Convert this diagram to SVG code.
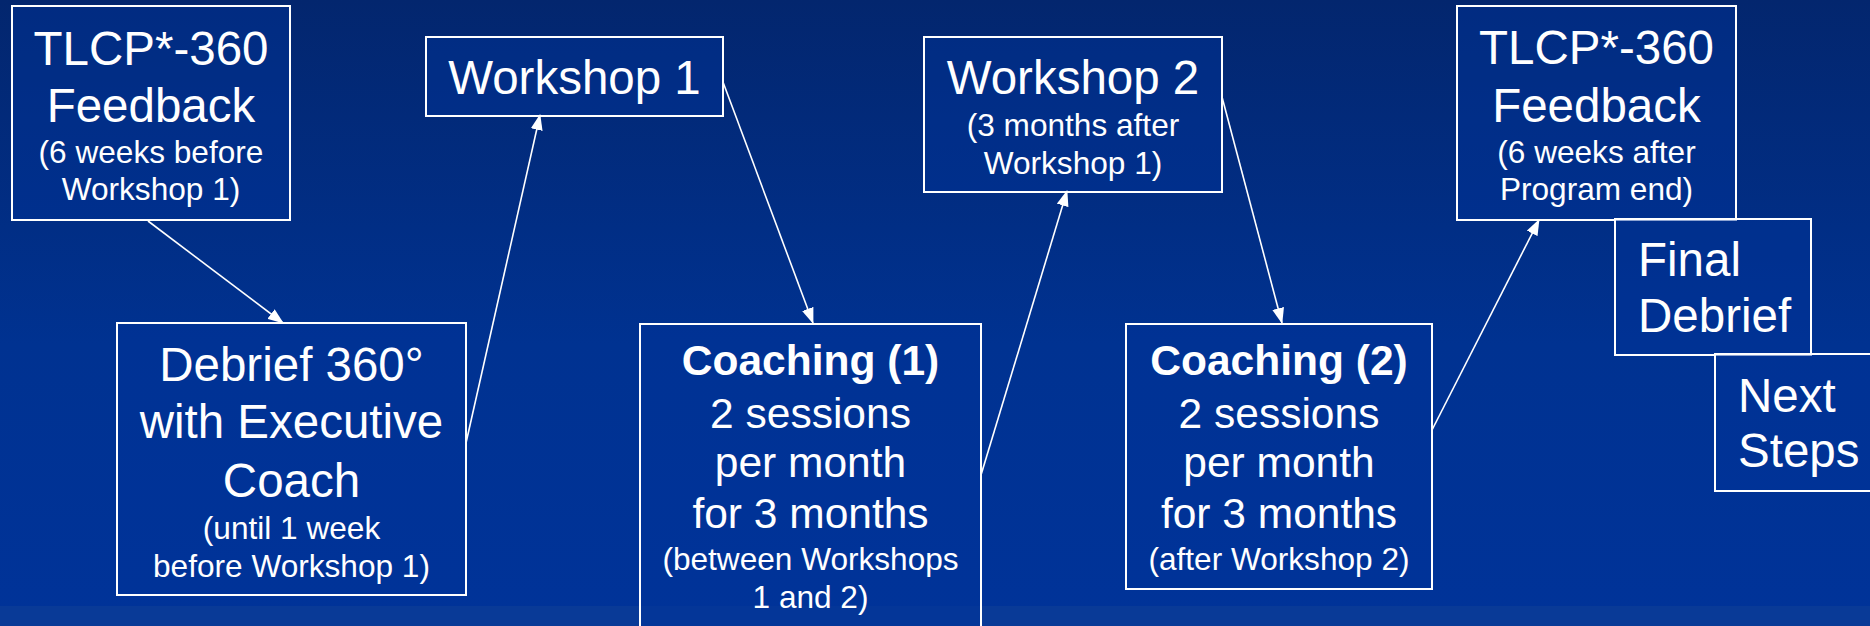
<svg xmlns="http://www.w3.org/2000/svg" width="1870" height="626" viewBox="0 0 1870 626">
<defs>
<linearGradient id="bg" x1="0" y1="0" x2="0" y2="1">
<stop offset="0" stop-color="#03266e"/>
<stop offset="0.55" stop-color="#003291"/>
<stop offset="1" stop-color="#003399"/>
</linearGradient>
<marker id="ah" viewBox="0 0 16 12" refX="15" refY="6" markerWidth="16" markerHeight="12" markerUnits="userSpaceOnUse" orient="auto">
<path d="M0,0 L16,6 L0,12 Z" fill="#ffffff"/>
</marker>
<style>
.box{fill:#003399;fill-opacity:0.45;stroke:#ffffff;stroke-width:2}
text{font-family:"Liberation Sans",Arial,sans-serif;fill:#ffffff}
.c{text-anchor:middle}
.big{font-size:47.5px}
.mid{font-size:42.5px}
.sm{font-size:31.6px}
.b{font-weight:bold}
.conn{stroke:#ffffff;stroke-width:1.6;fill:none;marker-end:url(#ah)}
</style>
</defs>
<rect x="0" y="0" width="1870" height="626" fill="url(#bg)"/>
<rect x="0" y="606" width="1870" height="20" fill="#093a97"/>

<g id="tlcp1">
<rect class="box" x="12" y="6" width="278" height="214"/>
<text class="c big" x="151" y="65">TLCP*-360</text>
<text class="c big" x="151" y="122">Feedback</text>
<text class="c sm" x="151" y="163">(6 weeks before</text>
<text class="c sm" x="151" y="200">Workshop 1)</text>
</g>

<g id="debrief">
<rect class="box" x="117" y="323" width="349" height="272"/>
<text class="c big" x="291.5" y="381">Debrief 360°</text>
<text class="c big" x="291.5" y="438">with Executive</text>
<text class="c big" x="291.5" y="497">Coach</text>
<text class="c sm" x="291.5" y="539">(until 1 week</text>
<text class="c sm" x="291.5" y="577">before Workshop 1)</text>
</g>

<g id="workshop1">
<rect class="box" x="426" y="37" width="297" height="79"/>
<text class="c big" x="574.5" y="94">Workshop 1</text>
</g>

<g id="coaching1">
<rect class="box" x="640" y="324" width="341" height="320"/>
<text class="c mid b" x="810.5" y="375">Coaching (1)</text>
<text class="c mid" x="810.5" y="428">2 sessions</text>
<text class="c mid" x="810.5" y="477">per month</text>
<text class="c mid" x="810.5" y="528">for 3 months</text>
<text class="c sm" x="810.5" y="570">(between Workshops</text>
<text class="c sm" x="810.5" y="608">1 and 2)</text>
</g>

<g id="workshop2">
<rect class="box" x="924" y="37" width="298" height="155"/>
<text class="c big" x="1073" y="94">Workshop 2</text>
<text class="c sm" x="1073" y="136">(3 months after</text>
<text class="c sm" x="1073" y="174">Workshop 1)</text>
</g>

<g id="coaching2">
<rect class="box" x="1126" y="324" width="306" height="265"/>
<text class="c mid b" x="1279" y="375">Coaching (2)</text>
<text class="c mid" x="1279" y="428">2 sessions</text>
<text class="c mid" x="1279" y="477">per month</text>
<text class="c mid" x="1279" y="528">for 3 months</text>
<text class="c sm" x="1279" y="570">(after Workshop 2)</text>
</g>

<g id="tlcp2">
<rect class="box" x="1457" y="6" width="279" height="214"/>
<text class="c big" x="1596.5" y="64">TLCP*-360</text>
<text class="c big" x="1596.5" y="122">Feedback</text>
<text class="c sm" x="1596.5" y="163">(6 weeks after</text>
<text class="c sm" x="1596.5" y="200">Program end)</text>
</g>

<g id="finaldebrief">
<rect class="box" x="1615" y="219" width="196" height="136"/>
<text class="big" x="1638" y="276">Final</text>
<text class="big" x="1638" y="332">Debrief</text>
</g>

<g id="nextsteps">
<rect class="box" x="1715" y="354" width="170" height="137"/>
<text class="big" x="1738" y="412">Next</text>
<text class="big" x="1738" y="467">Steps</text>
</g>

<g id="connectors">
<line class="conn" x1="148" y1="221" x2="283" y2="323"/>
<line class="conn" x1="466" y1="443" x2="540" y2="115"/>
<line class="conn" x1="723" y1="82" x2="813" y2="323"/>
<line class="conn" x1="981" y1="475" x2="1067" y2="191"/>
<line class="conn" x1="1222" y1="97" x2="1282" y2="323"/>
<line class="conn" x1="1432" y1="430" x2="1539" y2="220"/>
</g>
</svg>
